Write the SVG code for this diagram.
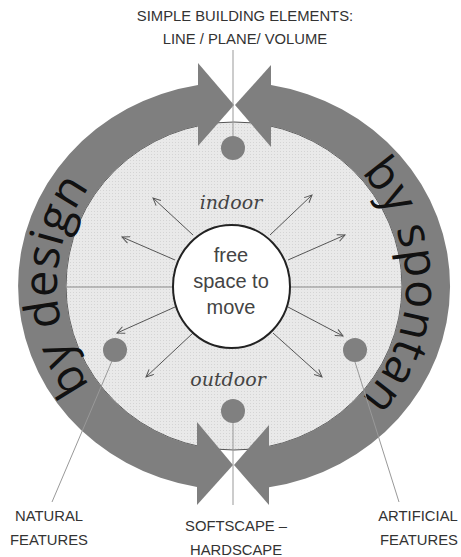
<svg xmlns="http://www.w3.org/2000/svg" width="461" height="557" viewBox="0 0 461 557">
<defs>
<style>
.ring{fill:#7f7f7f;}
.lbl{font-family:"Liberation Sans",Arial,sans-serif;font-size:14.8px;fill:#333;text-anchor:middle;}
.ital{font-family:"DejaVu Serif",serif;font-style:italic;font-size:19px;fill:#444;text-anchor:middle;}
.ctr{font-family:"Liberation Sans",Arial,sans-serif;font-size:20px;fill:#444;text-anchor:middle;}
.arc{font-family:"Open Sans","Liberation Sans",sans-serif;font-size:47px;fill:#111;}
.lead{stroke:#999;stroke-width:1;fill:none;}
.arr{stroke:#555;stroke-width:1;fill:none;marker-end:url(#ah);}
.dot{fill:#808080;}
</style>
<pattern id="tex" width="3" height="3" patternUnits="userSpaceOnUse">
<rect width="3" height="3" fill="#e9e9e9"/>
<rect x="1" y="1" width="1" height="1" fill="#d4d4d4"/>
</pattern>
<marker id="ah" markerWidth="10" markerHeight="10" refX="8" refY="4" orient="auto" markerUnits="userSpaceOnUse">
<path d="M0.5,0.5 L8,4 L0.5,7.5" fill="none" stroke="#555" stroke-width="1"/>
</marker>
<path id="pl" d="M145.5,434.1 A177 171 0 0 1 145.5,137.9"/>
<path id="pr" d="M320,140.5 A172 168 0 0 1 320,431.5"/>
</defs>

<g id="inner-space">
<ellipse cx="234" cy="286" rx="168" ry="164" fill="url(#tex)" stroke="#555" stroke-width="1"/>
</g>

<g id="ring-by-design">
<path class="ring" d="M198,84.9 A216 204 0 0 0 197,487 L197,446 A168 164 0 0 1 198,125.8 Z"/>
<polygon class="ring" points="198,63 198,146 234,105"/>
<polygon class="ring" points="197,422 197,505 233,465"/>
<text class="arc"><textPath href="#pl" startOffset="50%" text-anchor="middle" letter-spacing="0.5">by design</textPath></text>
</g>

<g id="ring-by-spontan">
<path class="ring" d="M271,85 A216 204 0 0 1 269,487.3 L269,446.4 A168 164 0 0 0 271,126 Z"/>
<polygon class="ring" points="271,65 271,147 235,105"/>
<polygon class="ring" points="269,425 269,505 234,465"/>
<text class="arc"><textPath href="#pr" startOffset="50%" text-anchor="middle" letter-spacing="0.5">by spontan</textPath></text>
</g>

<g id="connectors">
<line class="lead" x1="233" y1="50" x2="233" y2="140"/>
<line class="lead" x1="233" y1="420" x2="233" y2="505"/>
<line class="lead" x1="112" y1="361" x2="52" y2="502"/>
<line class="lead" x1="355" y1="362" x2="399" y2="502"/>
<line x1="67" y1="287" x2="173" y2="287" stroke="#888" stroke-width="1"/>
<line x1="290" y1="287" x2="403" y2="287" stroke="#888" stroke-width="1"/>
<line class="arr" x1="193" y1="235" x2="153" y2="198"/>
<line class="arr" x1="175" y1="260" x2="122" y2="237"/>
<line class="arr" x1="270" y1="235" x2="312" y2="195"/>
<line class="arr" x1="288" y1="260" x2="345" y2="235"/>
<line class="arr" x1="175" y1="307" x2="117" y2="333"/>
<line class="arr" x1="193" y1="333" x2="146" y2="377"/>
<line class="arr" x1="288" y1="307" x2="343" y2="336"/>
<line class="arr" x1="273" y1="333" x2="322" y2="377"/>
</g>

<g id="dot-top"><circle class="dot" cx="233" cy="148" r="12"/></g>
<g id="dot-bottom"><circle class="dot" cx="233" cy="411" r="12"/></g>
<g id="dot-left"><circle class="dot" cx="115" cy="350" r="12"/></g>
<g id="dot-right"><circle class="dot" cx="355" cy="350" r="12"/></g>

<g id="free-space">
<ellipse cx="231.5" cy="286.5" rx="58.5" ry="61.5" fill="#fff" stroke="#222" stroke-width="2"/>
<text class="ctr" x="231" y="262">free</text>
<text class="ctr" x="231" y="288">space to</text>
<text class="ctr" x="231" y="314">move</text>
</g>

<g id="zone-labels">
<text class="ital" x="231" y="209">indoor</text>
<text class="ital" x="228" y="386">outdoor</text>
</g>

<g id="label-top">
<text class="lbl" x="245" y="21">SIMPLE BUILDING ELEMENTS:</text>
<text class="lbl" x="245" y="44">LINE / PLANE/ VOLUME</text>
</g>
<g id="label-bottom">
<text class="lbl" x="236" y="531">SOFTSCAPE –</text>
<text class="lbl" x="236" y="555">HARDSCAPE</text>
</g>
<g id="label-natural">
<text class="lbl" x="49" y="521">NATURAL</text>
<text class="lbl" x="49" y="545">FEATURES</text>
</g>
<g id="label-artificial">
<text class="lbl" x="418" y="521">ARTIFICIAL</text>
<text class="lbl" x="419" y="545">FEATURES</text>
</g>
</svg>
